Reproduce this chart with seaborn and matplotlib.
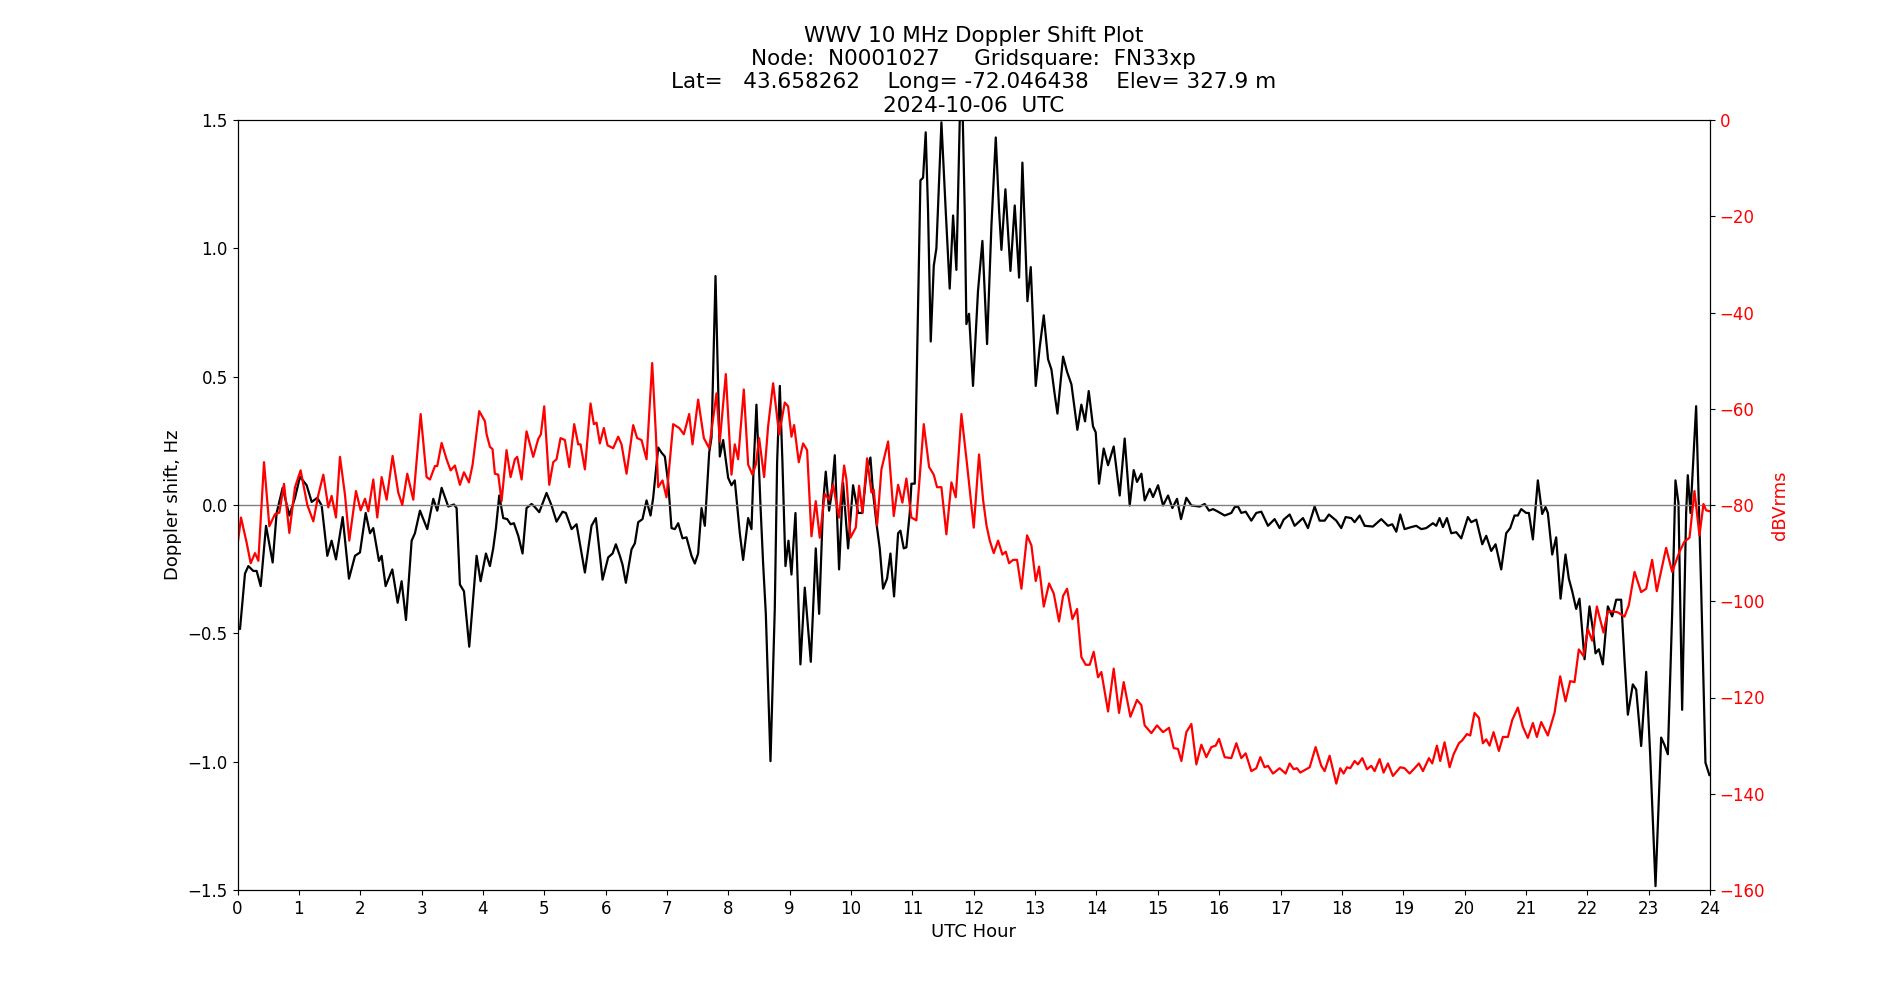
import matplotlib
matplotlib.use("Agg")
import matplotlib.pyplot as plt
import seaborn as sns
import pandas as pd

# ---- Doppler shift (black, left axis) ----
doppler_hours = [
    0.000, 0.041, 0.122, 0.177, 0.258, 0.312, 0.378, 0.465, 0.573, 0.638, 0.736, 0.845, 0.937, 1.018,
    1.127, 1.209, 1.301, 1.372, 1.464, 1.534, 1.605, 1.714, 1.817, 1.915, 1.996, 2.089, 2.159, 2.213,
    2.306, 2.349, 2.414, 2.523, 2.610, 2.675, 2.746, 2.838, 2.892, 2.974, 3.093, 3.191, 3.256, 3.327,
    3.435, 3.528, 3.571, 3.625, 3.691, 3.777, 3.897, 3.962, 4.049, 4.114,
    4.168, 4.212, 4.266, 4.331, 4.396, 4.451, 4.505, 4.576, 4.646, 4.711, 4.793, 4.847, 4.918, 5.037,
    5.119, 5.200, 5.298, 5.352, 5.445, 5.526, 5.580, 5.662, 5.770, 5.841, 5.950, 6.042, 6.113, 6.167,
    6.232, 6.275, 6.330, 6.422, 6.477, 6.531, 6.601, 6.667, 6.732, 6.775, 6.857, 6.911, 6.965, 7.020,
    7.074, 7.128, 7.183, 7.253, 7.318, 7.400, 7.454, 7.508, 7.563, 7.617, 7.688, 7.726, 7.791, 7.861,
    7.916, 7.997, 8.051, 8.105,
    8.187, 8.241, 8.323, 8.377, 8.415, 8.458, 8.524, 8.567, 8.611, 8.687, 8.757, 8.795, 8.839, 8.882,
    8.931, 8.980, 9.029, 9.094, 9.175, 9.246, 9.344, 9.425, 9.480, 9.545, 9.588, 9.642, 9.680, 9.735,
    9.805, 9.870, 9.952, 10.033, 10.115, 10.185, 10.251, 10.316, 10.359, 10.414, 10.468, 10.522,
    10.587, 10.642, 10.701, 10.767, 10.805, 10.859, 10.902, 10.957, 10.984, 11.038, 11.076, 11.131,
    11.174, 11.217, 11.255, 11.299, 11.348, 11.391, 11.473, 11.543, 11.608, 11.663, 11.717, 11.771,
    11.809, 11.853, 11.880, 11.923, 11.988, 12.069,
    12.141, 12.217, 12.288, 12.359, 12.413, 12.451, 12.516, 12.598, 12.668, 12.739, 12.793, 12.875,
    12.929, 13.010, 13.076, 13.141, 13.211, 13.266, 13.320, 13.364, 13.456, 13.521, 13.592, 13.689,
    13.754, 13.814, 13.874, 13.944, 13.988, 14.042, 14.118, 14.189, 14.281, 14.379, 14.460, 14.542,
    14.607, 14.661, 14.732, 14.786, 14.868, 14.922, 15.004, 15.085, 15.167, 15.237, 15.313, 15.378,
    15.465, 15.547, 15.683, 15.764, 15.835, 15.900, 15.981, 16.090, 16.198, 16.253,
    16.307, 16.361, 16.432, 16.524, 16.605, 16.687, 16.796, 16.904, 16.986, 17.051, 17.149, 17.230,
    17.366, 17.447, 17.556, 17.637, 17.719, 17.789, 17.909, 17.990, 18.061, 18.153, 18.208, 18.289,
    18.371, 18.506, 18.642, 18.751, 18.821, 18.887, 18.952, 19.022, 19.131, 19.212, 19.294, 19.375,
    19.484, 19.538, 19.592, 19.647, 19.712, 19.783, 19.864, 19.946, 20.054, 20.109, 20.190, 20.288,
    20.353, 20.434, 20.505, 20.597, 20.678, 20.744, 20.814, 20.868, 20.923, 21.004, 21.048, 21.113,
    21.194, 21.265, 21.319, 21.357, 21.428, 21.493, 21.564, 21.645, 21.699, 21.754, 21.819, 21.873,
    21.955, 22.036, 22.090, 22.134, 22.188, 22.253, 22.335, 22.406, 22.471, 22.552, 22.606, 22.661,
    22.742, 22.797, 22.878, 22.960, 23.025, 23.112, 23.204, 23.258, 23.313, 23.383, 23.437, 23.486,
    23.546, 23.611, 23.638, 23.682, 23.774, 23.856, 23.926, 23.991, 24.000,
]
doppler_hz = [
    -0.483, -0.483, -0.267, -0.238, -0.257, -0.257, -0.316, -0.081, -0.224, -0.031, 0.067, -0.041, 0.028, 0.110,
    0.077, 0.012, 0.028, -0.002, -0.198, -0.139, -0.212, -0.047, -0.287, -0.198, -0.185, -0.031, -0.110, -0.090,
    -0.218, -0.198, -0.316, -0.251, -0.381, -0.297, -0.448, -0.139, -0.110, -0.022, -0.094, 0.024, -0.022, 0.067,
    -0.006, 0.002, -0.012, -0.310, -0.336, -0.552, -0.198, -0.297, -0.189, -0.238,
    -0.169, -0.090, 0.037, -0.051, -0.055, -0.075, -0.071, -0.120, -0.189, -0.012, 0.004, -0.008, -0.028, 0.047,
    -0.002, -0.065, -0.026, -0.031, -0.094, -0.075, -0.149, -0.263, -0.081, -0.051, -0.291, -0.204, -0.189, -0.153,
    -0.198, -0.232, -0.303, -0.173, -0.149, -0.067, -0.055, 0.018, -0.041, 0.028, 0.224, 0.204, 0.189, 0.086,
    -0.090, -0.094, -0.071, -0.130, -0.126, -0.198, -0.228, -0.189, -0.012, -0.081, 0.204, 0.263, 0.892, 0.189,
    0.253, 0.106, 0.077, 0.096,
    -0.110, -0.214, -0.051, -0.094, 0.165, 0.391, -0.002, -0.228, -0.424, -0.998, -0.405, 0.165, 0.464, 0.165,
    -0.238, -0.139, -0.271, -0.031, -0.621, -0.322, -0.611, -0.169, -0.424, 0.008, 0.130, -0.022, 0.037, 0.194,
    -0.251, 0.086, -0.169, 0.077, -0.031, -0.031, 0.126, 0.185, 0.047, -0.071, -0.169, -0.326,
    -0.287, -0.189, -0.356, -0.110, -0.100, -0.169, -0.165, -0.031, 0.083, 0.083, 0.558, 1.265,
    1.275, 1.452, 1.147, 0.637, 0.931, 1.000, 1.491, 1.147, 0.843, 1.128, 0.916, 1.491,
    1.640, 1.147, 0.705, 0.745, 0.464, 0.833,
    1.029, 0.627, 1.088, 1.432, 1.147, 0.994, 1.230, 0.912, 1.167, 0.886, 1.334, 0.794,
    0.927, 0.464, 0.617, 0.739, 0.568, 0.528, 0.430, 0.356, 0.578, 0.519, 0.470, 0.293,
    0.391, 0.326, 0.444, 0.306, 0.283, 0.083, 0.220, 0.155, 0.228, 0.037, 0.259, -0.002,
    0.136, 0.090, 0.122, 0.018, 0.063, 0.031, 0.077, -0.002, 0.037, -0.012, 0.024, -0.055,
    0.028, -0.002, -0.006, 0.004, -0.022, -0.016, -0.026, -0.041, -0.031, -0.008,
    -0.006, -0.031, -0.026, -0.061, -0.031, -0.026, -0.081, -0.055, -0.090, -0.057, -0.037, -0.081,
    -0.051, -0.090, -0.006, -0.061, -0.061, -0.037, -0.061, -0.090, -0.047, -0.051, -0.067, -0.041,
    -0.081, -0.084, -0.055, -0.081, -0.075, -0.104, -0.037, -0.094, -0.086, -0.081, -0.094, -0.090,
    -0.071, -0.081, -0.051, -0.086, -0.051, -0.110, -0.106, -0.130, -0.047, -0.067, -0.057, -0.153,
    -0.120, -0.179, -0.153, -0.251, -0.110, -0.090, -0.041, -0.041, -0.016, -0.031, -0.031, -0.134,
    0.096, -0.035, -0.008, -0.031, -0.193, -0.126, -0.365, -0.193, -0.287, -0.336, -0.405, -0.365,
    -0.601, -0.395, -0.483, -0.578, -0.562, -0.621, -0.395, -0.434, -0.369, -0.369, -0.601, -0.817,
    -0.699, -0.719, -0.939, -0.650, -0.974, -1.485, -0.906, -0.935, -0.971, -0.424, 0.096, 0.008,
    -0.798, -0.031, 0.116, -0.031, 0.385, -0.326, -1.004, -1.053, -1.050,
]

# ---- Received power (red, right axis) ----
power_hours = [
    0.000, 0.057, 0.150, 0.215, 0.285, 0.340, 0.432, 0.519, 0.611, 0.682, 0.758, 0.845, 0.937, 1.029,
    1.138, 1.236, 1.317, 1.399, 1.480, 1.534, 1.605, 1.670, 1.752, 1.822, 1.931, 2.007, 2.078, 2.132,
    2.213, 2.278, 2.349, 2.431, 2.528, 2.620, 2.686, 2.767, 2.865, 2.985, 3.082, 3.137, 3.218, 3.256,
    3.327, 3.408, 3.473, 3.544, 3.625, 3.691, 3.772, 3.832, 3.940, 4.033,
    4.060, 4.114, 4.157, 4.195, 4.250, 4.304, 4.385, 4.451, 4.521, 4.559, 4.630, 4.711, 4.820, 4.901,
    4.945, 4.999, 5.081, 5.146, 5.200, 5.265, 5.336, 5.407, 5.488, 5.553, 5.591, 5.662, 5.754, 5.808,
    5.852, 5.906, 5.971, 6.031, 6.123, 6.205, 6.259, 6.341, 6.449, 6.514, 6.585, 6.667, 6.759, 6.819,
    6.857, 6.927, 6.992, 7.101, 7.199, 7.275, 7.362, 7.416, 7.508, 7.601, 7.688, 7.807, 7.861, 7.959,
    8.051, 8.105,
    8.160, 8.252, 8.323, 8.393, 8.448, 8.502, 8.583, 8.648, 8.730, 8.828, 8.920, 8.974, 9.029, 9.072,
    9.148, 9.219, 9.284, 9.355, 9.425, 9.490, 9.572, 9.642, 9.708, 9.751, 9.805, 9.887, 9.925, 9.990,
    10.077, 10.131, 10.186, 10.262, 10.332, 10.370, 10.425, 10.495, 10.604, 10.696, 10.767, 10.837,
    10.902, 10.984, 11.065, 11.185, 11.272, 11.348, 11.402, 11.473, 11.554, 11.636, 11.706, 11.799,
    11.891, 12.000, 12.086,
    12.152, 12.207, 12.261, 12.326, 12.397, 12.467, 12.522, 12.576, 12.641, 12.706, 12.777, 12.869,
    12.940, 13.010, 13.065, 13.141, 13.228, 13.304, 13.390, 13.456, 13.521, 13.608, 13.684, 13.754,
    13.825, 13.890, 13.955, 14.026, 14.080, 14.189, 14.281, 14.368, 14.444, 14.553, 14.661, 14.732,
    14.786, 14.895, 14.987, 15.085, 15.183, 15.259, 15.329, 15.384, 15.465, 15.547, 15.628, 15.710,
    15.791, 15.873, 15.943, 15.998, 16.090, 16.198, 16.280,
    16.361, 16.432, 16.524, 16.605, 16.671, 16.741, 16.796, 16.877, 16.986, 17.083, 17.149, 17.214,
    17.268, 17.322, 17.475, 17.572, 17.664, 17.719, 17.800, 17.909, 17.974, 18.028, 18.083, 18.137,
    18.208, 18.262, 18.333, 18.409, 18.479, 18.534, 18.615, 18.680, 18.751, 18.832, 18.952, 19.022,
    19.104, 19.185, 19.256, 19.321, 19.419, 19.473, 19.549, 19.603, 19.674, 19.756, 19.821, 19.908,
    19.962, 20.038, 20.092, 20.162, 20.233, 20.298, 20.353, 20.407,
    20.472, 20.559, 20.624, 20.706, 20.776, 20.868, 20.950, 21.031, 21.113, 21.178, 21.249, 21.357,
    21.466, 21.558, 21.645, 21.721, 21.792, 21.862, 21.938, 22.009, 22.080, 22.156, 22.264, 22.335,
    22.405, 22.498, 22.606, 22.677, 22.770, 22.878, 22.960, 23.057, 23.133, 23.204, 23.285, 23.383,
    23.503, 23.584, 23.666, 23.747, 23.828, 23.894, 23.937, 23.991,
]
power_dbv = [
    -88.4, -82.6, -87.9, -92.1, -90.0, -91.6, -71.1, -84.4, -81.9, -81.6, -75.6, -85.8, -76.3, -72.8,
    -80.0, -83.4, -77.9, -73.7, -80.5, -78.1, -82.6, -70.0, -77.9, -87.4, -77.1, -81.1, -78.7, -81.3,
    -74.7, -82.6, -74.2, -78.9, -69.8, -77.4, -80.0, -73.5, -78.9, -61.1, -74.2, -74.7, -71.9, -71.9,
    -67.1, -70.5, -72.8, -71.8, -75.8, -73.2, -75.3, -71.6, -60.5, -62.6,
    -65.3, -67.9, -68.4, -73.5, -73.7, -79.2, -68.6, -74.2, -70.5, -70.0, -74.7, -64.7, -70.0, -66.3,
    -65.3, -59.5, -75.8, -71.1, -70.5, -66.1, -66.5, -72.1, -63.2, -67.4, -67.4, -72.6, -58.9, -63.2,
    -62.9, -67.2, -64.0, -67.6, -68.2, -65.8, -67.4, -73.5, -63.4, -66.1, -66.5, -70.5, -50.5, -65.3,
    -76.3, -74.9, -78.4, -63.2, -64.0, -65.3, -61.1, -67.4, -58.1, -66.1, -68.2, -56.8, -66.8, -52.8,
    -73.7, -67.4,
    -70.5, -56.0, -71.6, -73.7, -71.6, -66.1, -74.2, -63.7, -54.7, -65.3, -58.7, -59.5, -65.8, -63.4,
    -71.1, -67.2, -68.6, -86.5, -79.2, -86.8, -77.7, -78.9, -75.8, -78.9, -82.6, -71.8, -74.7, -86.8,
    -84.7, -76.0, -81.6, -70.3, -77.4, -76.8, -84.2, -72.6, -66.8, -82.3, -75.8, -79.5,
    -74.5, -82.6, -83.2, -63.2, -72.1, -73.7, -76.3, -76.3, -86.1, -75.3, -78.4, -61.1,
    -71.6, -84.7, -69.5,
    -78.9, -84.2, -87.4, -90.0, -87.4, -90.3, -89.7, -92.1, -91.4, -91.4, -97.4, -86.3,
    -88.4, -95.8, -92.8, -101.1, -96.3, -98.4, -104.2, -98.9, -97.4, -103.7, -101.6, -111.6,
    -113.2, -113.2, -110.5, -115.8, -114.7, -122.9, -114.0, -123.2, -116.8, -124.0, -120.5, -121.6,
    -125.8, -127.4, -125.8, -127.2, -126.3, -130.5, -130.7, -133.2, -127.2, -125.5, -133.9, -129.8,
    -132.4, -130.3, -130.0, -128.6, -132.4, -132.6, -129.5,
    -132.6, -131.6, -135.3, -134.7, -132.4, -134.5, -134.2, -135.8, -134.7, -135.8, -133.7, -134.9,
    -134.7, -135.6, -134.5, -130.3, -134.2, -135.3, -132.1, -137.9, -134.7, -135.8, -134.5, -134.7,
    -133.2, -133.9, -132.6, -134.9, -134.2, -135.3, -132.8, -135.6, -133.7, -136.3, -134.5, -134.7,
    -135.8, -134.7, -133.7, -135.3, -132.6, -133.7, -130.0, -133.2, -129.3, -134.5, -131.8, -129.5,
    -128.9, -127.6, -127.9, -123.2, -124.2, -129.5, -128.7, -130.0,
    -127.2, -131.1, -128.2, -128.2, -124.7, -122.1, -126.1, -128.4, -125.3, -128.2, -125.1, -127.9,
    -123.2, -115.6, -120.8, -116.6, -116.8, -110.0, -111.4, -105.8, -108.2, -101.1, -106.5, -102.1,
    -102.1, -102.3, -103.2, -100.8, -93.9, -98.1, -97.4, -91.4, -97.9, -93.7, -88.9, -93.9,
    -89.7, -87.6, -86.8, -77.1, -86.3, -79.8, -81.1, -81.3,
]

x_ticks = list(range(0, 25))
title_lines = [
    "WWV 10 MHz Doppler Shift Plot",
    "Node:  N0001027     Gridsquare:  FN33xp",
    "Lat=   43.658262    Long= -72.046438    Elev= 327.9 m",
    "2024-10-06  UTC",
]

df_dop = pd.DataFrame({"hour": doppler_hours, "shift": doppler_hz})
df_pow = pd.DataFrame({"hour": power_hours, "dbv": power_dbv})

plt.rcParams["font.family"] = ["DejaVu Sans"]
fig, ax = plt.subplots(figsize=(19, 10), dpi=100)
fig.subplots_adjust(left=0.125, right=0.9, top=0.88, bottom=0.11)

sns.lineplot(data=df_dop, x="hour", y="shift", color="black", linewidth=1.6,
             estimator=None, sort=False, ax=ax)
ax.axhline(0, color="grey", linewidth=1)
ax.set_xlim(0, 24)
ax.set_ylim(-1.5, 1.5)
ax.set_xticks(x_ticks)
ax.set_xlabel("UTC Hour", fontsize=13)
ax.set_ylabel("Doppler shift, Hz", fontsize=13)
ax.tick_params(axis="both", labelsize=12)

ax2 = ax.twinx()
sns.lineplot(data=df_pow, x="hour", y="dbv", color="red", linewidth=1.6,
             estimator=None, sort=False, ax=ax2)
ax2.set_ylim(-160, 0)
ax2.set_ylabel("dBVrms", color="red", fontsize=13)
ax2.tick_params(axis="y", labelcolor="red", labelsize=12)
ax2.set_xlim(0, 24)

ax.set_title("\n".join(title_lines), fontsize=15.5)

fig.savefig("out.png", dpi=100)
